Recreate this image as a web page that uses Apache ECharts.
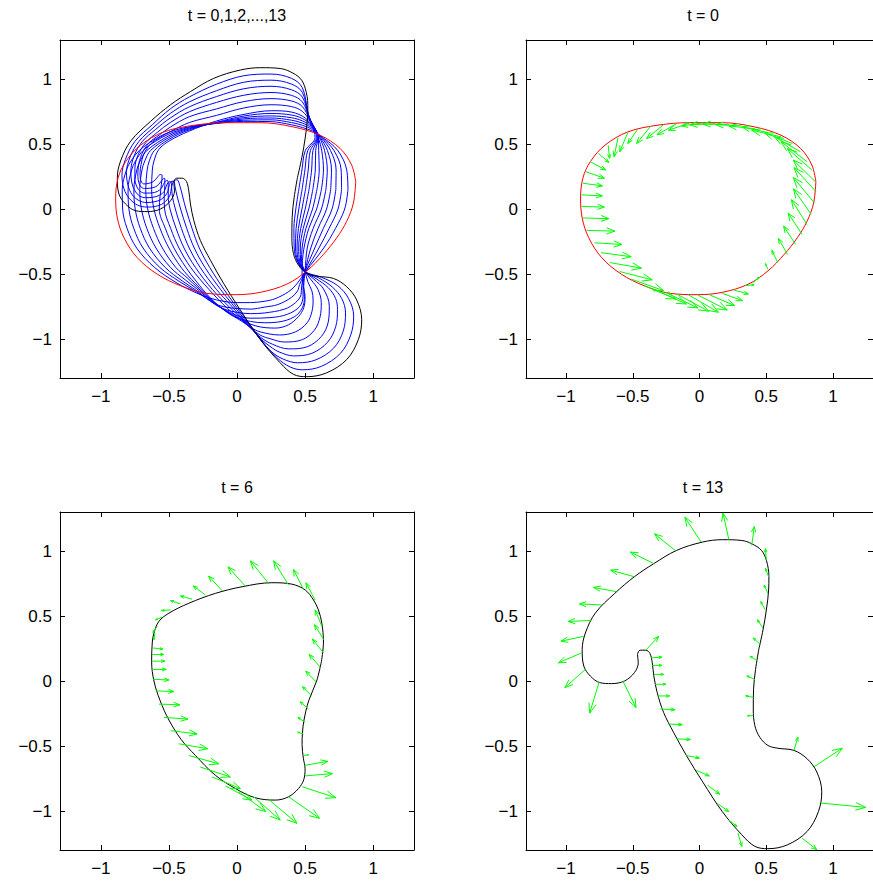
<!DOCTYPE html>
<html><head><meta charset="utf-8">
<script src="https://cdn.jsdelivr.net/npm/echarts@6/dist/echarts.min.js"></script>
<style>html,body{margin:0;padding:0;background:#fff}#c{width:873px;height:884px}</style>
</head><body><div id="c"></div>
<script>
// ---------- data ----------
const tickValues = [-1, -0.5, 0, 0.5, 1];
const titles = ['t = 0,1,2,...,13', 't = 0', 't = 6', 't = 13'];

// closed curves (x, y), t = 0 ... 13
const t0 = [[0.872,0.211],[0.855,0.046],[0.806,-0.094],[0.733,-0.221],[0.635,-0.349],[0.513,-0.476],[0.366,-0.578],[0.171,-0.641],[-0.012,-0.659],[-0.22,-0.649],[-0.415,-0.59],[-0.586,-0.501],[-0.733,-0.374],[-0.83,-0.221],[-0.879,-0.069],[-0.891,0.084],[-0.874,0.237],[-0.818,0.364],[-0.708,0.491],[-0.537,0.593],[-0.317,0.644],[-0.073,0.664],[0.171,0.664],[0.415,0.631],[0.611,0.567],[0.757,0.466],[0.842,0.338]];
const t1 = [[0.815,0.15],[0.791,0.0],[0.723,-0.15],[0.637,-0.30],[0.505,-0.48],[0.44,-0.575],[0.38,-0.635],[0.28,-0.69],[0.2,-0.71],[0.1,-0.72],[0.0,-0.72],[-0.1,-0.71],[-0.2,-0.685],[-0.30,-0.645],[-0.44,-0.57],[-0.605,-0.45],[-0.737,-0.30],[-0.807,-0.15],[-0.840,0.0],[-0.843,0.15],[-0.812,0.30],[-0.778,0.37],[-0.717,0.45],[-0.62,0.525],[-0.5,0.59],[-0.35,0.633],[-0.15,0.658],[0.05,0.674],[0.25,0.672],[0.40,0.648],[0.48,0.627],[0.558,0.598],[0.630,0.55],[0.740,0.45],[0.806,0.30]];
const t2 = [[0.768,0.15],[0.742,0.0],[0.676,-0.15],[0.602,-0.30],[0.505,-0.48],[0.46,-0.58],[0.445,-0.63],[0.40,-0.68],[0.30,-0.735],[0.2,-0.755],[0.1,-0.77],[0.0,-0.765],[-0.08,-0.755],[-0.16,-0.73],[-0.30,-0.635],[-0.42,-0.56],[-0.566,-0.45],[-0.690,-0.30],[-0.758,-0.15],[-0.794,0.0],[-0.800,0.15],[-0.774,0.30],[-0.745,0.37],[-0.690,0.45],[-0.60,0.52],[-0.5,0.577],[-0.35,0.628],[-0.15,0.660],[0.05,0.683],[0.25,0.686],[0.40,0.665],[0.48,0.644],[0.555,0.610],[0.624,0.55],[0.712,0.45],[0.765,0.30]];
const t3 = [[0.726,0.15],[0.698,0.0],[0.634,-0.15],[0.571,-0.30],[0.50,-0.48],[0.475,-0.59],[0.47,-0.66],[0.43,-0.72],[0.35,-0.77],[0.2,-0.80],[0.1,-0.805],[0.0,-0.795],[-0.08,-0.775],[-0.16,-0.735],[-0.30,-0.625],[-0.40,-0.555],[-0.527,-0.45],[-0.643,-0.30],[-0.710,-0.15],[-0.748,0.0],[-0.757,0.15],[-0.736,0.30],[-0.711,0.37],[-0.662,0.45],[-0.5,0.563],[-0.35,0.622],[-0.15,0.662],[0.05,0.693],[0.25,0.700],[0.40,0.683],[0.48,0.661],[0.552,0.622],[0.618,0.55],[0.687,0.45],[0.728,0.30]];
const t4 = [[0.688,0.15],[0.658,0.0],[0.595,-0.15],[0.542,-0.30],[0.50,-0.48],[0.485,-0.59],[0.485,-0.67],[0.46,-0.75],[0.37,-0.81],[0.25,-0.835],[0.1,-0.84],[0.0,-0.82],[-0.08,-0.78],[-0.16,-0.73],[-0.30,-0.61],[-0.38,-0.545],[-0.488,-0.45],[-0.595,-0.30],[-0.662,-0.15],[-0.702,0.0],[-0.714,0.15],[-0.698,0.30],[-0.677,0.37],[-0.635,0.45],[-0.5,0.55],[-0.35,0.616],[-0.15,0.664],[0.05,0.703],[0.25,0.716],[0.40,0.702],[0.48,0.678],[0.549,0.635],[0.611,0.55],[0.664,0.45],[0.694,0.30]];
const t5 = [[0.653,0.15],[0.620,0.0],[0.559,-0.15],[0.516,-0.30],[0.50,-0.48],[0.49,-0.595],[0.495,-0.675],[0.48,-0.76],[0.42,-0.83],[0.3,-0.87],[0.2,-0.875],[0.1,-0.865],[0.0,-0.835],[-0.08,-0.785],[-0.16,-0.728],[-0.30,-0.595],[-0.36,-0.535],[-0.449,-0.45],[-0.548,-0.30],[-0.613,-0.15],[-0.656,0.0],[-0.670,0.15],[-0.660,0.30],[-0.644,0.37],[-0.607,0.45],[-0.5,0.536],[-0.35,0.609],[-0.15,0.667],[0.05,0.715],[0.25,0.735],[0.40,0.723],[0.48,0.696],[0.545,0.647],[0.605,0.55],[0.643,0.45],[0.663,0.30]];
const t6 = [[0.62,0.15],[0.585,0.0],[0.527,-0.15],[0.492,-0.30],[0.481,-0.394],[0.478,-0.49],[0.488,-0.598],[0.50,-0.674],[0.49,-0.76],[0.452,-0.827],[0.378,-0.891],[0.281,-0.916],[0.134,-0.898],[-0.012,-0.827],[-0.159,-0.725],[-0.305,-0.573],[-0.41,-0.45],[-0.50,-0.30],[-0.565,-0.15],[-0.61,0.0],[-0.627,0.15],[-0.622,0.30],[-0.61,0.369],[-0.574,0.458],[-0.50,0.522],[-0.354,0.598],[-0.159,0.674],[0.037,0.725],[0.256,0.756],[0.403,0.745],[0.501,0.700],[0.562,0.623],[0.598,0.547],[0.623,0.445],[0.635,0.30]];
const t7 = [[0.587,0.15],[0.555,0.0],[0.506,-0.15],[0.478,-0.30],[0.474,-0.40],[0.50,-0.482],[0.52,-0.56],[0.55,-0.63],[0.559,-0.70],[0.55,-0.79],[0.515,-0.875],[0.43,-0.945],[0.314,-0.969],[0.17,-0.945],[0.10,-0.91],[0.03,-0.86],[-0.08,-0.79],[-0.20,-0.68],[-0.30,-0.555],[-0.375,-0.45],[-0.463,-0.30],[-0.526,-0.15],[-0.571,0.0],[-0.565,0.1],[-0.555,0.19],[-0.55,0.26],[-0.565,0.265],[-0.58,0.25],[-0.60,0.225],[-0.625,0.205],[-0.66,0.195],[-0.685,0.193],[-0.70,0.205],[-0.71,0.235],[-0.712,0.28],[-0.705,0.34],[-0.685,0.42],[-0.635,0.50],[-0.56,0.555],[-0.49,0.595],[-0.35,0.665],[-0.15,0.72],[0.05,0.777],[0.25,0.802],[0.40,0.788],[0.48,0.751],[0.537,0.673],[0.598,0.55],[0.600,0.45],[0.604,0.30]];
const t8 = [[0.557,0.15],[0.527,0.0],[0.486,-0.15],[0.465,-0.30],[0.467,-0.40],[0.50,-0.482],[0.545,-0.545],[0.595,-0.62],[0.619,-0.721],[0.61,-0.83],[0.57,-0.93],[0.48,-1.005],[0.347,-1.023],[0.25,-1.0],[0.17,-0.97],[0.10,-0.915],[0.03,-0.85],[-0.07,-0.765],[-0.205,-0.62],[-0.34,-0.45],[-0.426,-0.30],[-0.487,-0.15],[-0.532,0.0],[-0.535,0.1],[-0.53,0.18],[-0.53,0.235],[-0.545,0.23],[-0.56,0.21],[-0.575,0.19],[-0.60,0.17],[-0.64,0.16],[-0.68,0.158],[-0.705,0.17],[-0.72,0.20],[-0.728,0.25],[-0.725,0.32],[-0.70,0.42],[-0.645,0.51],[-0.57,0.57],[-0.49,0.63],[-0.35,0.71],[-0.15,0.77],[0.05,0.826],[0.25,0.849],[0.40,0.831],[0.48,0.788],[0.534,0.686],[0.596,0.55],[0.578,0.45],[0.575,0.30]];
const t9 = [[0.529,0.15],[0.501,0.0],[0.468,-0.15],[0.453,-0.30],[0.46,-0.40],[0.50,-0.482],[0.565,-0.54],[0.635,-0.615],[0.678,-0.747],[0.67,-0.87],[0.62,-0.98],[0.515,-1.06],[0.380,-1.076],[0.26,-1.04],[0.17,-0.985],[0.10,-0.915],[0.03,-0.84],[-0.06,-0.75],[-0.18,-0.62],[-0.305,-0.45],[-0.389,-0.30],[-0.447,-0.15],[-0.492,0.0],[-0.505,0.1],[-0.505,0.175],[-0.51,0.22],[-0.525,0.215],[-0.54,0.19],[-0.555,0.16],[-0.585,0.135],[-0.63,0.123],[-0.675,0.122],[-0.71,0.135],[-0.735,0.17],[-0.75,0.23],[-0.75,0.31],[-0.725,0.42],[-0.67,0.51],[-0.585,0.59],[-0.49,0.665],[-0.35,0.748],[-0.15,0.82],[0.05,0.875],[0.25,0.896],[0.40,0.874],[0.48,0.824],[0.531,0.699],[0.593,0.55],[0.558,0.45],[0.548,0.30]];
const t10 = [[0.503,0.15],[0.477,0.0],[0.451,-0.15],[0.441,-0.30],[0.453,-0.40],[0.50,-0.482],[0.58,-0.535],[0.67,-0.605],[0.725,-0.69],[0.738,-0.773],[0.725,-0.905],[0.665,-1.025],[0.55,-1.11],[0.414,-1.130],[0.31,-1.10],[0.26,-1.07],[0.17,-0.995],[0.10,-0.91],[0.03,-0.83],[-0.05,-0.735],[-0.15,-0.62],[-0.27,-0.45],[-0.351,-0.30],[-0.408,-0.15],[-0.453,0.0],[-0.475,0.1],[-0.48,0.17],[-0.485,0.21],[-0.505,0.205],[-0.52,0.175],[-0.535,0.135],[-0.57,0.105],[-0.62,0.09],[-0.67,0.087],[-0.715,0.10],[-0.75,0.14],[-0.772,0.20],[-0.78,0.29],[-0.755,0.41],[-0.695,0.52],[-0.60,0.61],[-0.49,0.70],[-0.35,0.786],[-0.15,0.865],[0.05,0.925],[0.25,0.944],[0.40,0.917],[0.48,0.861],[0.528,0.712],[0.589,0.55],[0.539,0.45],[0.523,0.30]];
const t11 = [[0.478,0.15],[0.454,0.0],[0.434,-0.15],[0.430,-0.30],[0.447,-0.40],[0.50,-0.482],[0.60,-0.53],[0.70,-0.60],[0.77,-0.69],[0.797,-0.799],[0.78,-0.94],[0.71,-1.07],[0.58,-1.16],[0.447,-1.183],[0.34,-1.155],[0.25,-1.095],[0.17,-1.0],[0.10,-0.905],[0.03,-0.815],[-0.04,-0.725],[-0.12,-0.62],[-0.235,-0.45],[-0.314,-0.30],[-0.369,-0.15],[-0.414,0.0],[-0.44,0.1],[-0.455,0.17],[-0.465,0.215],[-0.49,0.205],[-0.50,0.17],[-0.515,0.12],[-0.555,0.075],[-0.61,0.055],[-0.665,0.05],[-0.72,0.065],[-0.77,0.11],[-0.80,0.18],[-0.812,0.28],[-0.785,0.40],[-0.72,0.52],[-0.61,0.63],[-0.49,0.735],[-0.35,0.824],[-0.15,0.91],[0.05,0.975],[0.25,0.991],[0.40,0.961],[0.48,0.897],[0.525,0.725],[0.583,0.55],[0.520,0.45],[0.499,0.30]];
const t12 = [[0.454,0.15],[0.432,0.0],[0.418,-0.15],[0.420,-0.30],[0.442,-0.40],[0.50,-0.482],[0.62,-0.525],[0.74,-0.59],[0.82,-0.69],[0.857,-0.824],[0.835,-0.97],[0.76,-1.11],[0.62,-1.21],[0.48,-1.237],[0.39,-1.215],[0.30,-1.15],[0.17,-1.0],[0.10,-0.895],[0.03,-0.80],[-0.03,-0.715],[-0.095,-0.62],[-0.20,-0.45],[-0.277,-0.30],[-0.330,-0.15],[-0.375,0.0],[-0.40,0.1],[-0.42,0.18],[-0.44,0.225],[-0.465,0.215],[-0.48,0.17],[-0.495,0.10],[-0.54,0.045],[-0.60,0.02],[-0.66,0.015],[-0.73,0.03],[-0.79,0.08],[-0.83,0.155],[-0.845,0.26],[-0.82,0.38],[-0.75,0.52],[-0.62,0.65],[-0.49,0.77],[-0.35,0.862],[-0.15,0.96],[0.05,1.025],[0.25,1.038],[0.40,1.005],[0.48,0.933],[0.522,0.738],[0.573,0.55],[0.502,0.45],[0.477,0.30]];
const t13 = [[0.444,0.242],[0.420,0.089],[0.405,-0.064],[0.403,-0.216],[0.415,-0.344],[0.452,-0.433],[0.513,-0.496],[0.586,-0.517],[0.708,-0.534],[0.806,-0.598],[0.879,-0.700],[0.916,-0.852],[0.891,-1.005],[0.806,-1.158],[0.659,-1.260],[0.513,-1.290],[0.415,-1.272],[0.317,-1.183],[0.171,-1.005],[0.024,-0.776],[-0.098,-0.573],[-0.195,-0.394],[-0.269,-0.242],[-0.317,-0.089],[-0.342,0.038],[-0.354,0.140],[-0.371,0.211],[-0.403,0.237],[-0.444,0.237],[-0.464,0.204],[-0.459,0.140],[-0.488,0.064],[-0.562,0.000],[-0.659,-0.020],[-0.745,-0.013],[-0.818,0.038],[-0.867,0.115],[-0.879,0.242],[-0.855,0.369],[-0.781,0.522],[-0.635,0.674],[-0.488,0.802],[-0.342,0.903],[-0.171,1.005],[0.024,1.069],[0.171,1.087],[0.317,1.081],[0.391,1.056],[0.464,1.005],[0.501,0.929],[0.520,0.802],[0.518,0.700],[0.501,0.547],[0.476,0.394]];

// velocity arrows [x, y, dx, dy]
const q0 = [[-0.757,0.427,0.078,-0.069],[-0.818,0.364,0.115,-0.064],[-0.855,0.288,0.142,-0.051],[-0.874,0.198,0.147,-0.020],[-0.884,0.109,0.156,-0.008],[-0.884,0.020,0.171,-0.005],[-0.874,-0.069,0.195,-0.005],[-0.842,-0.165,0.208,-0.005],[-0.786,-0.260,0.205,-0.013],[-0.737,-0.336,0.225,-0.031],[-0.672,-0.412,0.237,-0.043],[-0.598,-0.481,0.244,-0.064],[-0.513,-0.539,0.244,-0.089],[-0.415,-0.590,0.239,-0.102],[-0.342,-0.616,0.244,-0.115],[-0.256,-0.641,0.244,-0.120],[-0.171,-0.654,0.239,-0.132],[-0.085,-0.659,0.227,-0.135],[-0.012,-0.662,0.220,-0.115],[0.073,-0.659,0.190,-0.084],[0.171,-0.649,0.151,-0.056],[0.256,-0.623,0.110,-0.031],[0.342,-0.590,0.068,0.008],[0.403,-0.565,0.045,0.040],[0.513,-0.463,-0.020,0.043],[0.586,-0.412,-0.044,0.094],[0.659,-0.349,-0.068,0.122],[0.720,-0.272,-0.090,0.140],[0.769,-0.196,-0.105,0.165],[0.806,-0.120,-0.117,0.191],[0.838,-0.043,-0.134,0.198],[0.862,0.046,-0.159,0.196],[0.872,0.135,-0.164,0.183],[0.867,0.211,-0.164,0.165],[0.842,0.300,-0.183,0.165],[0.806,0.364,-0.195,0.153],[0.757,0.440,-0.195,0.115],[0.696,0.504,-0.208,0.081],[0.611,0.555,-0.220,0.051],[0.513,0.588,-0.195,0.043],[0.415,0.618,-0.195,0.020],[0.317,0.639,-0.195,0.010],[0.220,0.649,-0.195,0.005],[0.122,0.656,-0.195,-0.008],[0.024,0.662,-0.159,-0.023],[-0.073,0.662,-0.159,-0.056],[-0.171,0.656,-0.147,-0.084],[-0.269,0.649,-0.127,-0.107],[-0.366,0.636,-0.105,-0.132],[-0.464,0.613,-0.073,-0.109],[-0.537,0.588,-0.061,-0.148],[-0.611,0.547,-0.029,-0.145],[-0.684,0.490,0.010,-0.100]];
const q6 = [[0.574,0.623,-0.068,0.132],[0.488,0.705,-0.073,0.153],[0.379,0.738,-0.110,0.186],[0.232,0.751,-0.134,0.173],[0.061,0.730,-0.127,0.148],[-0.110,0.695,-0.098,0.112],[-0.232,0.662,-0.090,0.069],[-0.330,0.629,-0.085,0.025],[-0.415,0.593,-0.073,0.025],[-0.488,0.547,-0.066,-0.005],[-0.549,0.491,-0.049,-0.020],[-0.586,0.420,-0.032,-0.046],[-0.603,0.369,-0.007,-0.051],[-0.618,0.254,0.073,-0.008],[-0.623,0.204,0.085,0],[-0.623,0.153,0.093,0],[-0.623,0.089,0.103,0],[-0.615,0.013,0.115,-0.005],[-0.598,-0.076,0.134,-0.005],[-0.574,-0.178,0.154,-0.005],[-0.537,-0.280,0.176,-0.013],[-0.488,-0.382,0.195,-0.025],[-0.427,-0.483,0.212,-0.038],[-0.354,-0.573,0.220,-0.064],[-0.269,-0.662,0.220,-0.076],[-0.183,-0.738,0.208,-0.089],[-0.085,-0.807,0.195,-0.109],[0.012,-0.852,0.200,-0.153],[0.122,-0.891,0.195,-0.178],[0.232,-0.911,0.208,-0.183],[0.379,-0.891,0.227,-0.165],[0.481,-0.814,0.244,-0.084],[0.501,-0.730,0.200,0.018],[0.496,-0.649,0.171,0.031],[0.488,-0.573,0.037,0.005],[0.488,-0.407,-0.042,0.013],[0.501,-0.318,-0.054,0.038],[0.525,-0.216,-0.061,0.056],[0.549,-0.115,-0.068,0.071],[0.586,-0.013,-0.081,0.089],[0.615,0.102,-0.085,0.102],[0.635,0.216,-0.081,0.107],[0.637,0.318,-0.068,0.115],[0.623,0.420,-0.049,0.127]];
const q13 = [[0.220,1.087,-0.044,0.204],[0.012,1.069,-0.122,0.191],[-0.183,1.005,-0.154,0.127],[-0.342,0.903,-0.176,0.089],[-0.488,0.802,-0.178,0.051],[-0.623,0.687,-0.171,0.033],[-0.733,0.585,-0.166,0.008],[-0.811,0.466,-0.173,-0.008],[-0.867,0.344,-0.171,-0.038],[-0.884,0.216,-0.173,-0.076],[-0.855,0.089,-0.154,-0.140],[-0.752,-0.008,-0.071,-0.239],[-0.574,0.0,0.098,-0.204],[-0.403,0.237,0.098,0.107],[-0.366,0.178,0.085,0.005],[-0.354,0.120,0.073,0],[-0.342,0.051,0.073,0],[-0.330,-0.025,0.078,0],[-0.313,-0.115,0.088,0],[-0.293,-0.216,0.110,-0.005],[-0.232,-0.331,0.103,-0.005],[-0.171,-0.445,0.103,-0.005],[-0.098,-0.573,0.098,-0.020],[-0.024,-0.687,0.098,-0.043],[0.061,-0.802,0.090,-0.069],[0.134,-0.941,0.085,-0.064],[0.220,-1.069,0.061,-0.051],[0.288,-1.170,0.029,-0.102],[0.769,-1.209,0.110,-0.089],[0.908,-0.939,0.337,-0.033],[0.855,-0.662,0.215,0.145],[0.708,-0.534,0.029,0.102],[0.403,-0.267,-0.044,0],[0.405,-0.127,-0.059,0.013],[0.415,0.013,-0.061,0.025],[0.435,0.153,-0.056,0.038],[0.457,0.280,-0.054,0.051],[0.476,0.407,-0.042,0.064],[0.493,0.547,-0.034,0.064],[0.513,0.674,-0.029,0.064],[0.518,0.802,-0.024,0.064],[0.501,0.929,-0.007,0.089],[0.391,1.043,0.020,0.145]];

// ---------- chart ----------
const FONT = 'Liberation Sans, Arial, Helvetica, sans-serif';
const FS = 17;
const grids = [
  {left: 60, top: 40, width: 354, height: 338},
  {left: 526, top: 40, width: 354, height: 338},
  {left: 60, top: 512, width: 354, height: 338},
  {left: 526, top: 512, width: 354, height: 338}
];
const fmt = v => (v < 0 ? '\u2212' : '') + Math.abs(v);
function axis(gi, pos, isX) {
  const labels = (pos === 'bottom' || pos === 'left');
  return {
    type: 'value', gridIndex: gi, position: pos, min: -1.3, max: 1.3,
    axisLine: {show: true, onZero: false, lineStyle: {color: '#000', width: 1}},
    axisTick: {show: true, inside: true, length: 5, customValues: tickValues, lineStyle: {color: '#000', width: 1}},
    axisLabel: {show: labels, customValues: tickValues, formatter: fmt, color: '#000',
      fontSize: FS, fontFamily: FONT, margin: isX ? 10 : 8},
    splitLine: {show: false}
  };
}
const xAxis = [], yAxis = [];
grids.forEach((g, i) => {
  xAxis.push(axis(i, 'bottom', true), axis(i, 'top', true));
  yAxis.push(axis(i, 'left', false), axis(i, 'right', false));
});
const closed = a => a.concat([a[0]]);
function curve(pts, gi, color, z) {
  return {type: 'line', xAxisIndex: 2 * gi, yAxisIndex: 2 * gi, data: closed(pts),
    smooth: 0.35, symbol: 'none', showSymbol: false, silent: true, clip: true, z: z,
    lineStyle: {color: color, width: 1}, animation: false};
}
function arrows(data, gi) {
  return {type: 'custom', xAxisIndex: 2 * gi, yAxisIndex: 2 * gi, data: data, clip: true, silent: true, z: 4,
    encode: {x: 0, y: 1}, animation: false,
    renderItem: (params, api) => {
      const b = api.coord([api.value(0), api.value(1)]);
      const e = api.coord([api.value(0) + api.value(2), api.value(1) + api.value(3)]);
      const dx = e[0] - b[0], dy = e[1] - b[1], L = Math.hypot(dx, dy);
      if (L < 0.5) return null;
      const ux = dx / L, uy = dy / L, h = Math.min(L * 0.3, 10), w = h * 0.38;
      const p1 = [e[0] - ux * h - uy * w, e[1] - uy * h + ux * w];
      const p2 = [e[0] - ux * h + uy * w, e[1] - uy * h - ux * w];
      return {type: 'group', children: [
        {type: 'line', shape: {x1: b[0], y1: b[1], x2: e[0], y2: e[1]}, style: {stroke: '#00ff00', lineWidth: 1}},
        {type: 'polyline', shape: {points: [p1, e, p2]}, style: {stroke: '#00ff00', fill: null, lineWidth: 1}}
      ]};
    }};
}
const blue = [t1, t2, t3, t4, t5, t6, t7, t8, t9, t10, t11, t12];
const series = [];
blue.forEach(c => series.push(curve(c, 0, '#0000ff', 2)));
series.push(curve(t13, 0, '#000000', 3));
series.push(curve(t0, 0, '#ff0000', 3));
series.push(curve(t0, 1, '#ff0000', 2));
series.push(arrows(q0, 1));
series.push(curve(t6, 2, '#000000', 2));
series.push(arrows(q6, 2));
series.push(curve(t13, 3, '#000000', 2));
series.push(arrows(q13, 3));

const titleGraphics = titles.map((t, i) => ({
  type: 'text', x: i % 2 === 0 ? 237 : 703, y: i < 2 ? 15 : 487,
  style: {text: t, fill: '#000', font: '16px ' + FONT, textAlign: 'center', textVerticalAlign: 'middle'}
}));

const chart = echarts.init(document.getElementById('c'), null, {renderer: 'svg'});
chart.setOption({
  animation: false, backgroundColor: '#fff',
  grid: grids, xAxis: xAxis, yAxis: yAxis, series: series,
  graphic: titleGraphics
});
</script></body></html>
